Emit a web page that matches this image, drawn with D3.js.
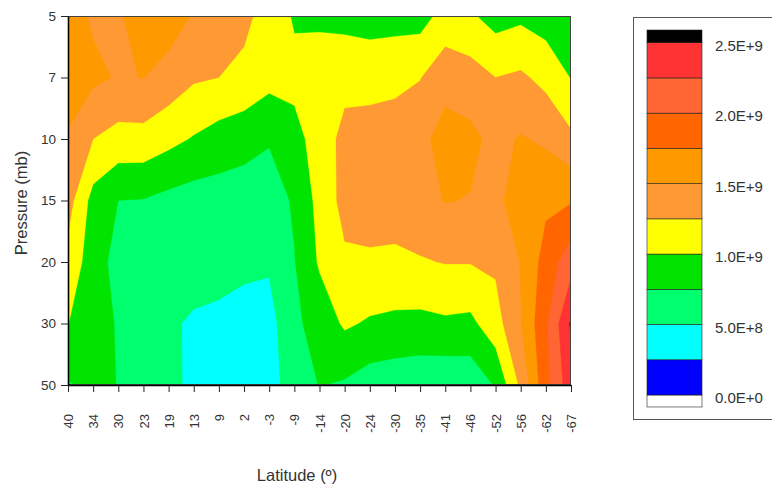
<!DOCTYPE html>
<html><head><meta charset="utf-8">
<script src="https://cdn.jsdelivr.net/npm/d3@7"></script>
<style>body{margin:0;background:#fff}svg{display:block}</style>
</head><body><svg id="c" width="772" height="487"></svg>
<script>
// Categories
const latitudes = ["40","34","30","23","19","13","9","2","-3","-9","-14","-20","-24","-30","-35","-41","-46","-52","-56","-62","-67"];
const pressures = ["5","7","10","15","20","30","50"];
// Values per pressure level (units of 1E+8), one entry per latitude
const p5  = [16.0,14.7,14.75,16.0,16.3,14.8,14.2,13.3,11.1,9.8,9.5,9.3,9.0,9.2,9.0,10.9,10.35,9.0,9.5,8.8,8.5];
const p7  = [16.5,15.5,14.8,15.05,14.0,12.8,12.5,11.7,10.8,10.5,11.4,11.6,11.6,11.6,12.4,14.1,13.6,12.5,12.9,11.8,9.9];
const p10 = [14.7,12.5,11.6,11.6,10.7,9.8,8.9,8.55,7.7,9.4,10.8,13.4,13.6,14.2,14.3,16.0,15.6,14.3,15.2,14.6,13.0];
const p15 = [13.5,9.1,7.5,7.4,6.8,6.4,6.4,6.05,6.3,7.8,10.8,13.3,13.6,13.8,14.2,15.1,14.9,14.6,15.8,17.0,17.3];
const p20 = [11.65,8.7,6.6,6.5,6.3,6.0,5.8,5.4,5.3,7.4,10.3,12.1,12.15,11.95,12.3,12.6,12.6,12.9,15.1,18.5,21.5];
const p30 = [10.05,8.5,7.3,6.0,5.33,4.7,4.5,4.3,4.1,7.0,8.5,10.35,9.7,9.45,9.3,9.6,9.4,11.5,14.9,19.6,25.3];
const p50 = [7.3,8.0,7.45,6.0,5.6,4.5,4.3,4.2,4.2,6.0,7.6,7.2,6.3,6.0,5.8,5.6,5.8,7.7,13.0,19.3,24.0];
// Contour levels (units of 1E+8) and band colours (colour for values >= level)
const levels = [0,2.5,5,7.5,10,12.5,15,17.5,20,22.5,25];
const bandColors = ["#0000ff","#00ffff","#00ff6e","#00e400","#ffff00","#ff9933","#ff9900","#ff6600","#ff6633","#ff3333","#000000"];
const belowColor = "#ffffff";
// Legend labels
const legendValues = [0,5,10,15,20,25];
const legendLabels = ["0.0E+0","5.0E+8","1.0E+9","1.5E+9","2.0E+9","2.5E+9"];

const svg = d3.select("#c");
const font = "'Liberation Sans', Arial, sans-serif";
const P = {left:68, top:16, right:571, bottom:385};
const grid = [p5,p7,p10,p15,p20,p30,p50];
const nx = latitudes.length, ny = pressures.length;
const values = grid.flat();

const cx = d3.scaleLinear().domain([0.5, nx-0.5]).range([P.left, P.right]);
const cy = d3.scaleLinear().domain([0.5, ny-0.5]).range([P.top, P.bottom]);
const proj = d3.geoTransform({point(x,y){ this.stream.point(cx(x), cy(y)); }});
const path = d3.geoPath(proj);

svg.append("clipPath").attr("id","plotclip").append("rect")
  .attr("x",P.left).attr("y",P.top).attr("width",P.right-P.left).attr("height",P.bottom-P.top);

const g = svg.append("g").attr("clip-path","url(#plotclip)");
g.append("rect").attr("x",P.left).attr("y",P.top).attr("width",P.right-P.left).attr("height",P.bottom-P.top).attr("fill",belowColor);
const contours = d3.contours().size([nx, ny]).thresholds(levels)(values);
g.selectAll("path").data(contours).join("path")
  .attr("d", path)
  .attr("fill", d=>bandColors[levels.indexOf(d.value)])
  .attr("stroke", d=>bandColors[levels.indexOf(d.value)])
  .attr("stroke-width",0.3);

// plot frame
svg.append("rect").attr("x",P.left+0.5).attr("y",P.top+0.5).attr("width",P.right-P.left-1).attr("height",P.bottom-P.top-1)
  .attr("fill","none").attr("stroke","#444").attr("stroke-width",1);

// axes
const xs = d3.scalePoint().domain(latitudes).range([P.left, P.right]);
const ys = d3.scalePoint().domain(pressures).range([P.top, P.bottom]);
const xa = svg.append("g").attr("transform",`translate(0,${P.bottom})`)
  .call(d3.axisBottom(xs).tickSize(7).tickSizeOuter(0));
xa.selectAll("text").attr("transform","rotate(-90)").attr("text-anchor","end")
  .attr("x",-29).attr("y",0).attr("dy","0.35em");
const ya = svg.append("g").attr("transform",`translate(${P.left},0)`)
  .call(d3.axisLeft(ys).tickSize(7).tickPadding(5).tickSizeOuter(0));
[xa,ya].forEach(a=>{
  a.select(".domain").attr("stroke","#000").attr("stroke-width",1.6);
  a.selectAll(".tick line").attr("stroke","#222").attr("stroke-width",1);
  a.selectAll("text").attr("fill","#333").style("font-family",font);
});
xa.selectAll("text").style("font-size","13px");
ya.selectAll("text").style("font-size","13.5px");

svg.append("text").attr("transform","translate(27,203) rotate(-90)").attr("text-anchor","middle")
  .style("font-family",font).style("font-size","16.5px").attr("fill","#333").text("Pressure (mb)");
svg.append("text").attr("x",297).attr("y",481).attr("text-anchor","middle")
  .style("font-family",font).style("font-size","16.5px").attr("fill","#333").text("Latitude (º)");

// legend
svg.append("rect").attr("x",633.5).attr("y",17.5).attr("width",200).attr("height",402)
  .attr("fill","none").attr("stroke","#555").attr("stroke-width",1);
const ls = d3.scaleLinear().domain([0,25]).range([395,42.7]);
const bx = 647, bw = 55;
const legBands = levels.map((v,i)=>({lo:v, hi: i<levels.length-1 ? levels[i+1] : v+0.9, c:bandColors[i]}));
legBands.unshift({lo:-0.85, hi:0, c:belowColor});
svg.append("g").selectAll("rect").data(legBands).join("rect")
  .attr("x",bx).attr("width",bw)
  .attr("y",d=>ls(d.hi)).attr("height",d=>ls(d.lo)-ls(d.hi))
  .attr("fill",d=>d.c).attr("stroke","#222").attr("stroke-width",0.6);
svg.append("g").selectAll("text").data(legendValues).join("text")
  .attr("x",715).attr("y",d=>ls(d)+3).attr("dy","0.35em")
  .style("font-family",font).style("font-size","15px").attr("fill","#333")
  .text((d,i)=>legendLabels[i]);
</script></body></html>
